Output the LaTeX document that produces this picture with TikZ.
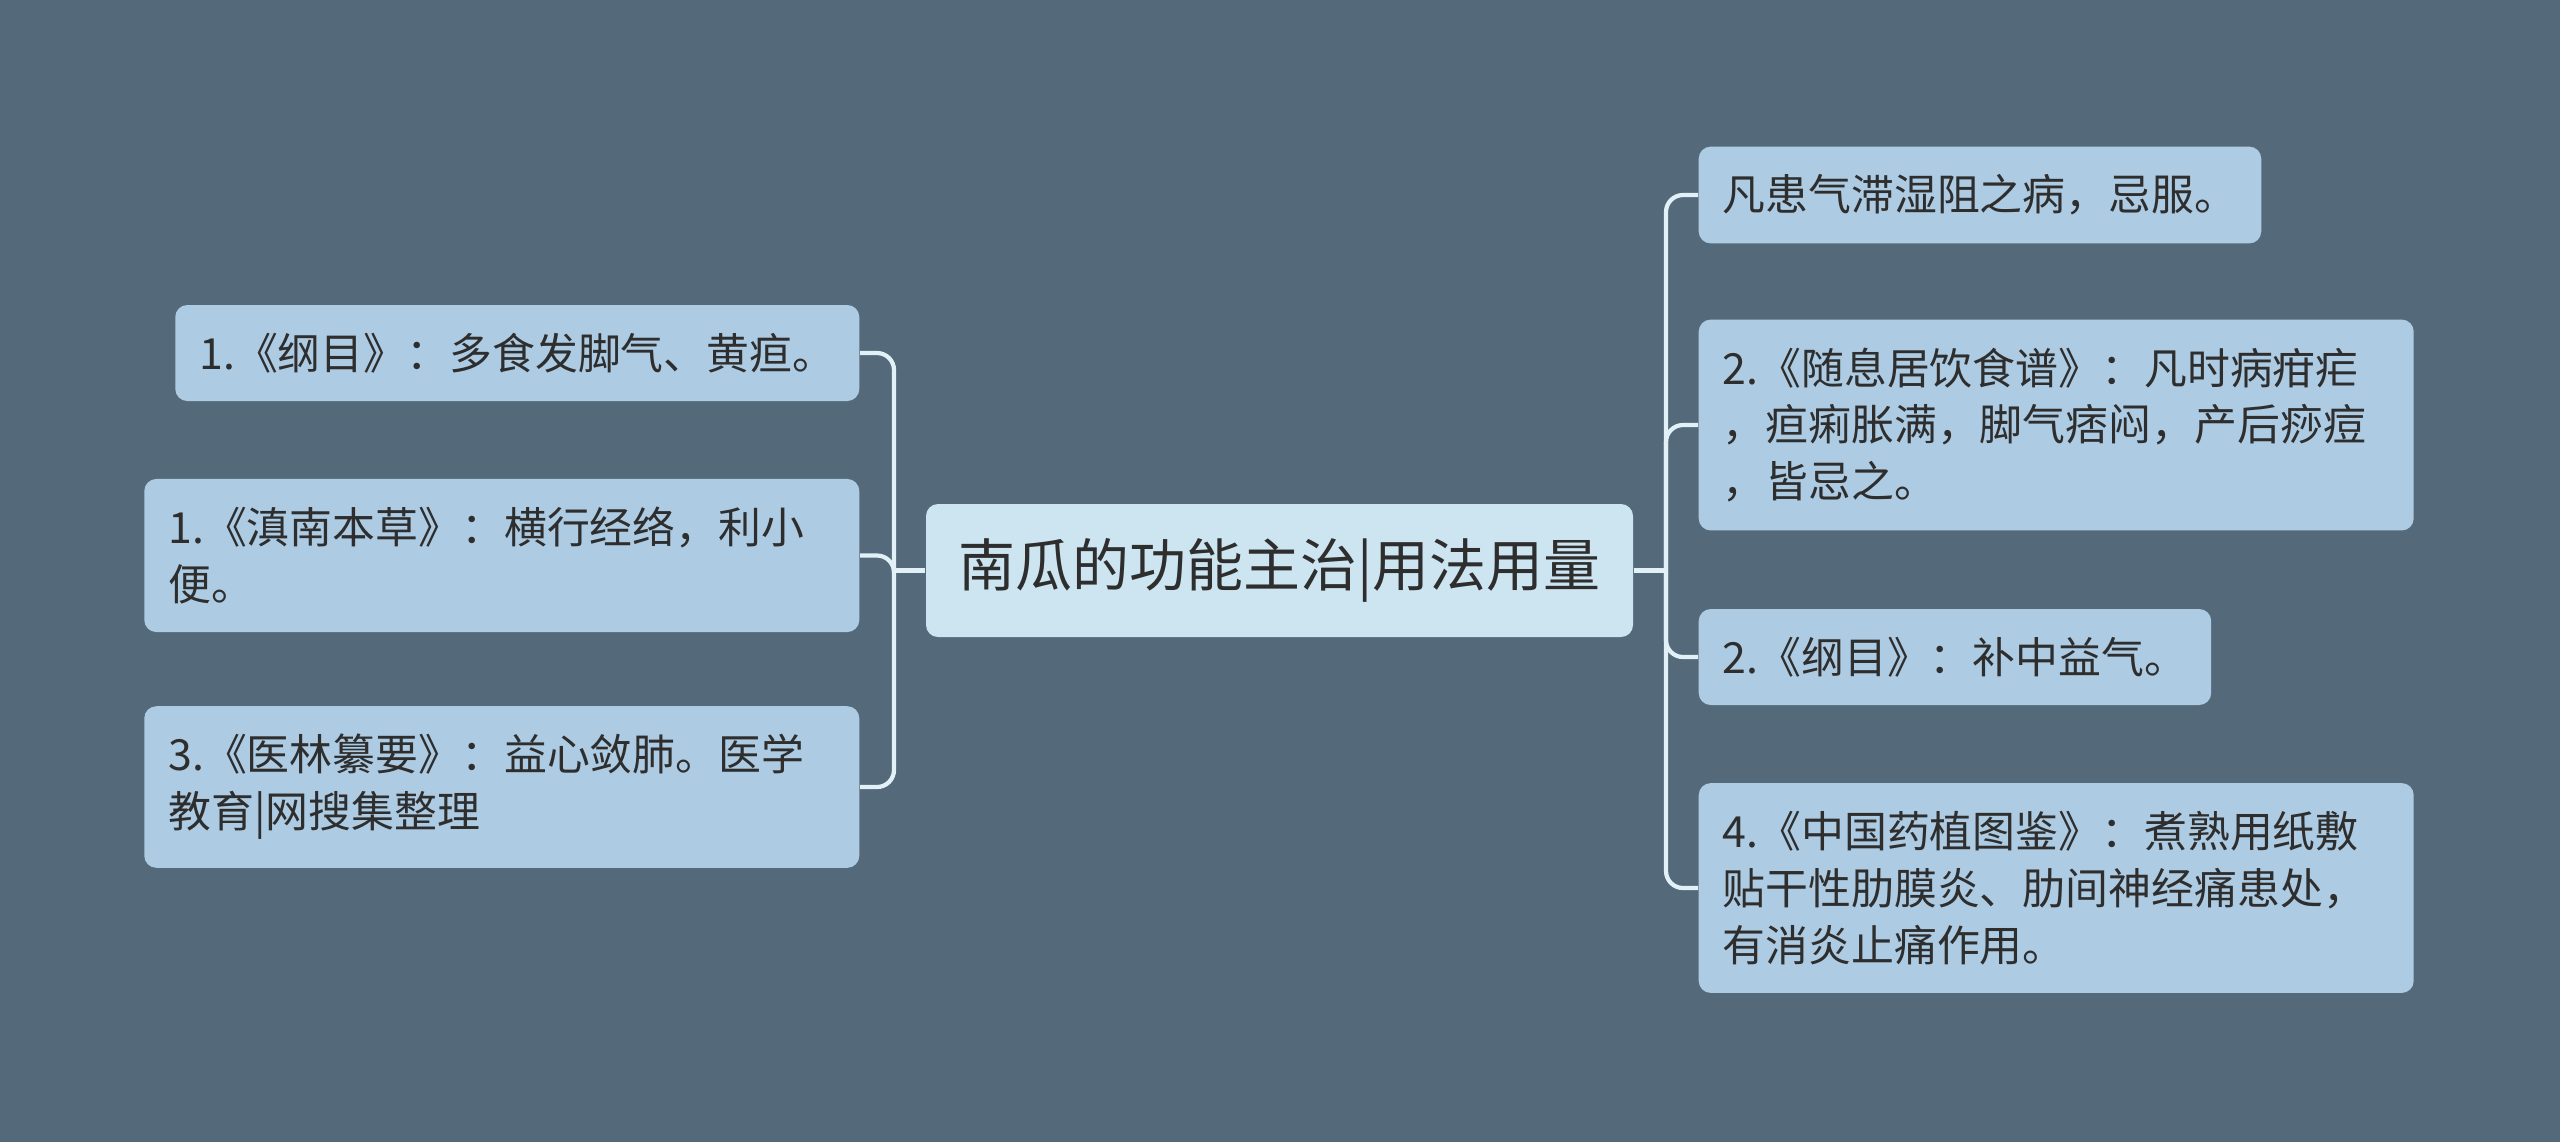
\documentclass[tikz,border=0pt]{standalone}
\usepackage{fontspec}
\newfontfamily\cjk{Noto Sans CJK SC}
\usepackage{tikz}
\usetikzlibrary{calc,positioning}

\definecolor{bgcol}{HTML}{546A7A}
\definecolor{leafcol}{HTML}{ADCBE2}
\definecolor{rootcol}{HTML}{CDE5F1}
\definecolor{linkcol}{HTML}{E2F0F7}
\definecolor{txtcol}{HTML}{2E2E2E}

\begin{document}
\begin{tikzpicture}[
  root/.style={rectangle, rounded corners=0.12cm, fill=rootcol, text=txtcol,
    font=\cjk\fontsize{16.2}{20}\selectfont, minimum width=7.07cm,
    minimum height=1.33cm, inner xsep=0.28cm},
  leaf/.style={rectangle, rounded corners=0.12cm, fill=leafcol, text=txtcol,
    font=\cjk\fontsize{12.2}{16.2}\selectfont, inner xsep=0.24cm,
    inner ysep=0.28cm, align=left},
  wide/.style={text width=6.67cm},
  link/.style={draw=linkcol, line width=1.2pt, rounded corners=0.17cm}
]
\fill[bgcol] (0,0) rectangle (25.6,-11.42);
\useasboundingbox (0,0) rectangle (25.6,-11.42);

\node[root] (root) at (12.795,-5.705) {南瓜的功能主治|用法用量};

% left side
\node[leaf, anchor=east] (l1) at (8.60,-3.53) {1.《纲目》：多食发脚气、黄疸。};
\node[leaf, wide, anchor=east] (l2) at (8.60,-5.555) {1.《滇南本草》：横行经络，利小\\便。};
\node[leaf, wide, anchor=east] (l3) at (8.60,-7.87) {3.《医林纂要》：益心敛肺。医学\\教育|网搜集整理};

% right side
\node[leaf, anchor=west] (r1) at (16.98,-1.95) {凡患气滞湿阻之病，忌服。};
\node[leaf, wide, anchor=west] (r2) at (16.98,-4.25) {2.《随息居饮食谱》：凡时病疳疟\\，疸痢胀满，脚气痞闷，产后痧痘\\，皆忌之。};
\node[leaf, anchor=west] (r3) at (16.98,-6.57) {2.《纲目》：补中益气。};
\node[leaf, wide, anchor=west] (r4) at (16.98,-8.88) {4.《中国药植图鉴》：煮熟用纸敷\\贴干性肋膜炎、肋间神经痛患处，\\有消炎止痛作用。};

\coordinate (lj) at (8.94,-5.705);
\coordinate (rj) at (16.66,-5.705);
\draw[link] (root.west) -- (lj);
\draw[link] (root.east) -- (rj);
\foreach \n in {l1,l2,l3}
  \draw[link] (lj) |- (\n.east);
\foreach \n in {r1,r2,r3,r4}
  \draw[link] (rj) |- (\n.west);

\end{tikzpicture}
\end{document}
